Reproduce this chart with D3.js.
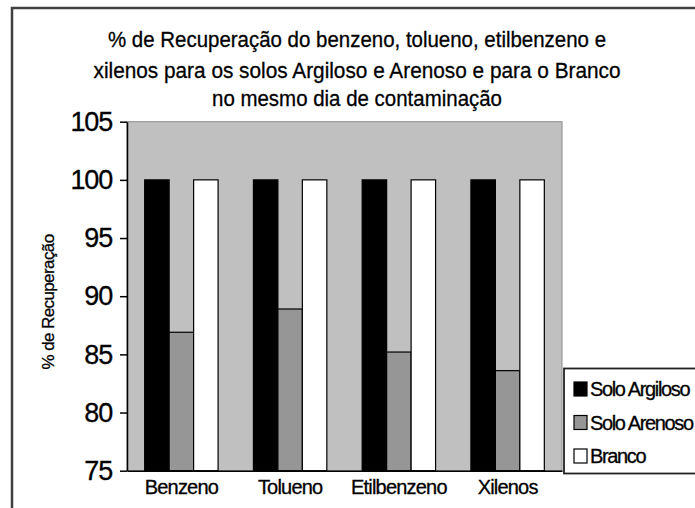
<!DOCTYPE html>
<html>
<head>
<meta charset="utf-8">
<script src="https://cdn.jsdelivr.net/npm/d3@7/dist/d3.min.js"></script>
<style>
  html, body { margin: 0; padding: 0; background: #fff; }
  svg { display: block; }
  text { font-family: "Liberation Sans", Arial, sans-serif; fill: #000; stroke: #000; stroke-width: 0.3px; }
</style>
</head>
<body>
<svg id="chart" width="695" height="508"></svg>
<script>
const titleLines = [
  "% de Recuperação do benzeno, tolueno, etilbenzeno e",
  "xilenos para os solos Argiloso e Arenoso e para o Branco",
  "no mesmo dia de contaminação"
];
const categories = ["Benzeno", "Tolueno", "Etilbenzeno", "Xilenos"];
const seriesNames = ["Solo Argiloso", "Solo Arenoso", "Branco"];
const soloArgiloso = [100, 100, 100, 100];
const soloArenoso = [86.9, 88.9, 85.2, 83.6];
const branco = [100, 100, 100, 100];
const yTicks = [75, 80, 85, 90, 95, 100, 105];
const yLabel = "% de Recuperação";
const colors = ["#000000", "#969696", "#ffffff"];

const seriesValues = [soloArgiloso, soloArenoso, branco];

const svg = d3.select("#chart");

// outer frame
svg.append("rect")
  .attr("x", 12).attr("y", 8).attr("width", 720).attr("height", 520)
  .attr("fill", "#fff").attr("stroke", "#404040").attr("stroke-width", 2.5);

// title
const titleWidths = [498, 527, 290];
const titleY = [46.5, 78, 106];
titleLines.forEach((t, i) => {
  svg.append("text")
    .attr("x", 357).attr("y", titleY[i])
    .attr("text-anchor", "middle")
    .attr("font-size", 22)
    .attr("textLength", titleWidths[i])
    .attr("lengthAdjust", "spacingAndGlyphs")
    .text(t);
});

const plot = { left: 127, right: 562, top: 121.7, bottom: 470.7 };

const y = d3.scaleLinear().domain([75, 105]).range([plot.bottom, plot.top]);
const x0 = d3.scaleBand().domain(categories).range([plot.left, plot.right])
  .paddingInner(0.325).paddingOuter(0.1625);
const x1 = d3.scaleBand().domain(seriesNames).range([0, x0.bandwidth()]).padding(0);

// plot area
svg.append("rect")
  .attr("x", plot.left).attr("y", plot.top)
  .attr("width", plot.right - plot.left).attr("height", plot.bottom - plot.top)
  .attr("fill", "#c0c0c0").attr("stroke", "#8c8c8c").attr("stroke-width", 1);

// bars
const data = [];
categories.forEach((c, ci) => {
  seriesNames.forEach((s, si) => {
    data.push({ cat: c, series: s, value: seriesValues[si][ci], color: colors[si] });
  });
});
svg.append("g").selectAll("rect").data(data).join("rect")
  .attr("x", d => x0(d.cat) + x1(d.series))
  .attr("y", d => y(d.value))
  .attr("width", x1.bandwidth())
  .attr("height", d => y(75) - y(d.value))
  .attr("fill", d => d.color)
  .attr("stroke", "#000").attr("stroke-width", 1.2);

// y axis
const yAxis = svg.append("g")
  .attr("transform", `translate(${plot.left},0)`)
  .call(d3.axisLeft(y).tickValues(yTicks).tickSize(7).tickSizeOuter(0).tickPadding(8));
yAxis.select(".domain").attr("stroke", "#000").attr("stroke-width", 1.5);
yAxis.selectAll(".tick line").attr("stroke", "#000").attr("stroke-width", 1.5);
yAxis.selectAll(".tick text")
  .attr("font-size", 27)
  .attr("letter-spacing", -1.2)
  .attr("fill", "#000")
  .style("font-family", '"Liberation Sans", Arial, sans-serif');

// x axis
const xAxis = svg.append("g")
  .attr("transform", `translate(0,${plot.bottom})`)
  .call(d3.axisBottom(x0).tickSize(0).tickSizeOuter(0).tickPadding(9));
xAxis.select(".domain").attr("stroke", "#000").attr("stroke-width", 1.5);
xAxis.selectAll(".tick text")
  .attr("font-size", 20)
  .attr("letter-spacing", -0.8)
  .attr("fill", "#000")
  .attr("dy", "0.71em")
  .style("font-family", '"Liberation Sans", Arial, sans-serif');

// y label
svg.append("text")
  .attr("transform", "translate(54,302) rotate(-90)")
  .attr("text-anchor", "middle")
  .attr("font-size", 17)
  .attr("letter-spacing", -0.6)
  .text(yLabel);

// legend
const legend = svg.append("g");
legend.append("rect")
  .attr("x", 564).attr("y", 368.5).attr("width", 200).attr("height", 105)
  .attr("fill", "#fff").attr("stroke", "#222").attr("stroke-width", 1.8);
const legY = d3.scalePoint().domain(seriesNames).range([389, 456]);
seriesNames.forEach((s, i) => {
  legend.append("rect")
    .attr("x", 574).attr("y", legY(s) - 7)
    .attr("width", 13).attr("height", 14)
    .attr("fill", colors[i]).attr("stroke", "#000").attr("stroke-width", 1.2);
  legend.append("text")
    .attr("x", 590).attr("y", legY(s) + 7)
    .attr("font-size", 20)
    .attr("letter-spacing", -1.35)
    .text(s);
});
</script>
</body>
</html>
